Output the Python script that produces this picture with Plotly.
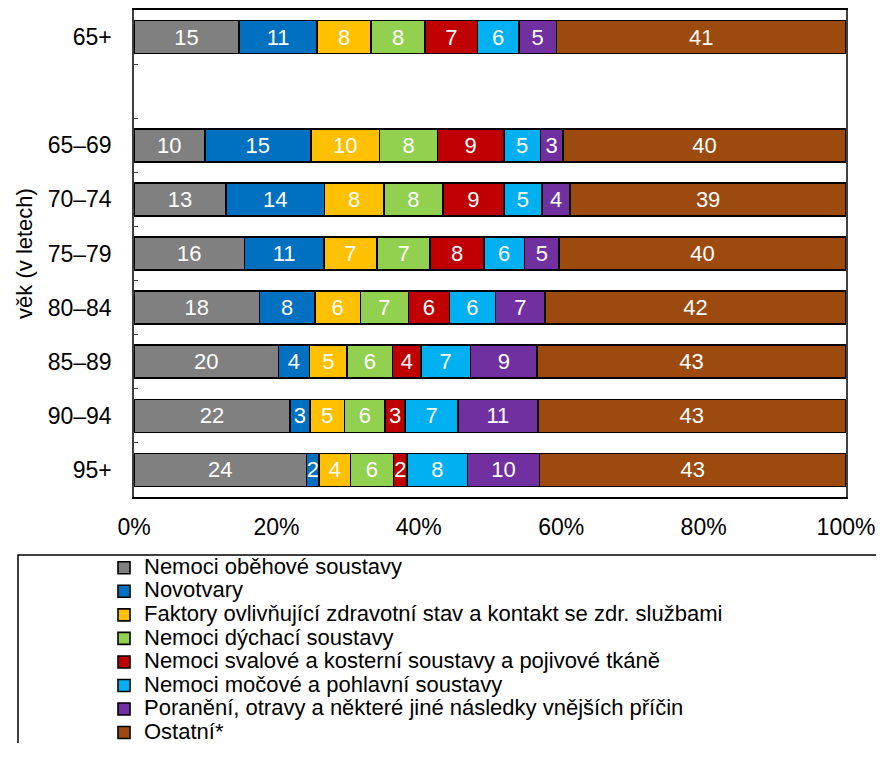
import plotly.graph_objects as go

age_groups = ["65+", " ", "65–69", "70–74", "75–79", "80–84", "85–89", "90–94", "95+"]

series_names = [
    "Nemoci oběhové soustavy",
    "Novotvary",
    "Faktory ovlivňující zdravotní stav a kontakt se zdr. službami",
    "Nemoci dýchací soustavy",
    "Nemoci svalové a kosterní soustavy a pojivové tkáně",
    "Nemoci močové a pohlavní soustavy",
    "Poranění, otravy a některé jiné následky vnějších příčin",
    "Ostatní*",
]

obehova = [14.76, None, 9.93, 12.90, 15.50, 17.60, 20.27, 21.89, 24.23]
novotvary = [10.96, None, 14.90, 13.88, 11.18, 7.79, 4.40, 2.80, 1.78]
faktory = [7.59, None, 9.65, 8.30, 7.45, 6.40, 5.23, 4.89, 4.38]
dychaci = [7.59, None, 8.16, 8.33, 7.47, 6.77, 6.43, 5.69, 6.05]
svalove = [7.33, None, 9.31, 8.53, 7.55, 5.73, 3.96, 2.80, 1.92]
mocove = [5.82, None, 5.13, 5.37, 5.68, 6.47, 6.99, 7.45, 8.49]
poraneni = [5.27, None, 3.17, 3.96, 4.89, 6.99, 9.32, 11.18, 10.11]
ostatni = [40.68, None, 39.75, 38.73, 40.28, 42.25, 43.40, 43.30, 43.04]

series_values = [obehova, novotvary, faktory, dychaci, svalove, mocove, poraneni, ostatni]
colors = ["#808080", "#0070C0", "#FFC000", "#92D050", "#C00000", "#00B0F0", "#7030A0", "#9C4A0E"]

x_ticks = [0, 20, 40, 60, 80, 100]
x_ticktext = ["0%", "20%", "40%", "60%", "80%", "100%"]

FONT = "Liberation Sans, Arial, sans-serif"
LEGEND_TEXT_SIZE = 22

fig = go.Figure()
for name, vals, col in zip(series_names, series_values, colors):
    fig.add_trace(go.Bar(
        y=age_groups,
        x=vals,
        name=f'<span style="font-size:{LEGEND_TEXT_SIZE}px">{name}</span>',
        orientation="h",
        marker=dict(color=col, line=dict(color="#000000", width=1.6)),
        texttemplate="%{x:.0f}",
        textposition="inside",
        insidetextanchor="middle",
        textangle=0,
        textfont=dict(color="white", size=22, family=FONT),
    ))

# page has an 8px body margin, so the figure is offset by (8, 8);
# keep the page within the window so no scrollbar appears
OFF = 8
W, H = 884 - OFF, 735
PLOT_LEFT_PAGE, PLOT_RIGHT_PAGE = 134, 846
PLOT_TOP_PAGE, PLOT_BOTTOM_PAGE = 10, 497
L = PLOT_LEFT_PAGE - OFF
R = W - (PLOT_RIGHT_PAGE - OFF)
T = PLOT_TOP_PAGE - OFF
B = H - (PLOT_BOTTOM_PAGE - OFF)
pw = W - L - R
ph = H - T - B

def px_x(p):
    return (p - OFF - L) / pw

def px_y(p):
    return (H - B - (p - OFF)) / ph

fig.update_layout(
    width=W, height=H,
    barmode="stack",
    bargap=0.39,
    margin=dict(l=L, r=R, t=T, b=B, autoexpand=False),
    plot_bgcolor="white",
    paper_bgcolor="white",
    font=dict(family=FONT, size=22, color="#000000"),
    uniformtext=dict(mode="show", minsize=22),
    showlegend=True,
    legend=dict(
        orientation="v",
        traceorder="normal",
        x=px_x(104), xanchor="left",
        y=px_y(551), yanchor="top",
        font=dict(size=15.8, family=FONT),
        bgcolor="rgba(0,0,0,0)",
        borderwidth=0,
        tracegroupgap=0,
    ),
    xaxis=dict(
        range=[0, 100],
        tickvals=x_ticks,
        ticktext=x_ticktext,
        showgrid=False,
        zeroline=False,
        showline=True,
        linecolor="#000000",
        linewidth=1.5,
        mirror=True,
        ticks="",
        ticklabelstandoff=9,
        tickfont=dict(size=23),
    ),
    yaxis=dict(
        type="category",
        categoryorder="array",
        categoryarray=age_groups,
        autorange="reversed",
        showgrid=False,
        showline=True,
        linecolor="#404040",
        linewidth=1.5,
        mirror=True,
        ticks="inside",
        tickson="boundaries",
        ticklen=4,
        tickcolor="#404040",
        ticklabelstandoff=16,
        tickfont=dict(size=23),
        title=dict(text="věk (v letech)", font=dict(size=22), standoff=9),
    ),
    shapes=[
        dict(
            type="rect", xref="paper", yref="paper",
            x0=px_x(18), x1=px_x(900),
            y0=px_y(555), y1=px_y(780),
            line=dict(color="#000000", width=1.5),
            fillcolor="rgba(0,0,0,0)",
            layer="below",
        )
    ],
)

fig.write_html("out.html")
